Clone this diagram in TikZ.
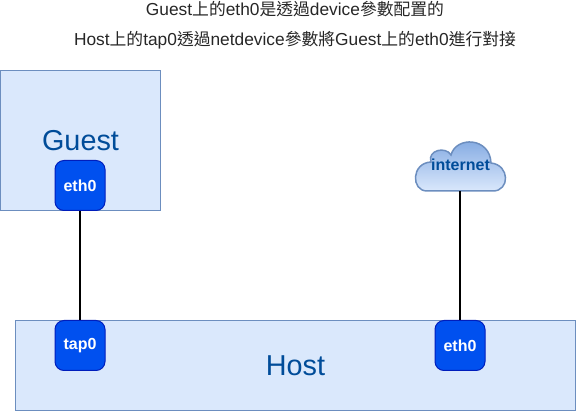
\documentclass[tikz,border=0pt]{standalone}
\usepackage{fontspec}
\setmainfont{Liberation Sans}
\newfontfamily\cjk{Noto Sans CJK TC}
\definecolor{boxfill}{HTML}{DAE8FC}
\definecolor{boxline}{HTML}{6C8EBF}
\definecolor{boxtext}{HTML}{004C99}
\definecolor{ifill}{HTML}{0050EF}
\definecolor{iline}{HTML}{001DBC}
\definecolor{cloudtop}{HTML}{7EA6E0}
\tikzset{
  x=1pt,y=-1pt,
  zone/.style={draw=boxline,fill=boxfill,line width=1pt,anchor=north west,inner sep=0pt,outer sep=0pt},
  zonelabel/.style={text=boxtext,inner sep=0pt},
  iface/.style={draw=iline,fill=ifill,line width=1pt,rounded corners=9pt,minimum width=50pt,minimum height=50pt,inner sep=0pt,outer sep=0.5pt,text=white,font=\fontsize{16}{16}\bfseries\selectfont},
  link/.style={draw=black,line width=2pt},
  title/.style={inner sep=0pt,text=black!85,font=\fontsize{17.33}{18}\selectfont},
}
\newcommand{\zh}[1]{{\cjk\fontsize{16.8}{18}\selectfont #1}}
\begin{document}
\begin{tikzpicture}
\useasboundingbox (0,0) rectangle (576,411);
\node[title] (line1) at (295,9.5) {Guest\zh{上的}eth0\zh{是透過}device\zh{參數配置的}};
\node[title] (line2) at (295,40.5) {Host\zh{上的}tap0\zh{透過}netdevice\zh{參數將}Guest\zh{上的}eth0\zh{進行對接}};
\node[zone,minimum width=160pt,minimum height=140pt] (guest) at (0.5,70.5) {};
\node[zone,minimum width=560pt,minimum height=90pt] (host) at (15.5,320.5) {};
\node[zonelabel,font=\fontsize{28.8}{29}\selectfont] (guestlabel) at (80.5,141) {Guest};
\node[zonelabel,font=\fontsize{28.8}{29}\selectfont] (hostlabel) at (295.5,366) {Host};
\path[draw=boxline,line width=1.5pt,top color=cloudtop,bottom color=boxfill]
  (427,191) .. controls (411,191) and (411,163) .. (431,162)
  .. controls (427,150) and (446,146) .. (451,155)
  .. controls (456,136) and (490,137) .. (491,163)
  .. controls (510,165) and (510,191) .. (493,191) -- cycle;
\node[inner sep=0pt,minimum width=90pt,minimum height=50pt,outer sep=0pt] (cloud) at (460,166) {};
\node[inner sep=0pt,text=boxtext,font=\fontsize{16}{16}\bfseries\selectfont] (cloudtext) at (460.5,165) {internet};
\node[iface] (guesteth) at (80,185.5) {eth0};
\node[iface] (tap) at (80,345.5) {tap0};
\node[iface] (hosteth) at (460,345.5) {eth0};
\draw[link] (guesteth) -- (tap);
\draw[link] (cloud) -- (hosteth);
\end{tikzpicture}
\end{document}
